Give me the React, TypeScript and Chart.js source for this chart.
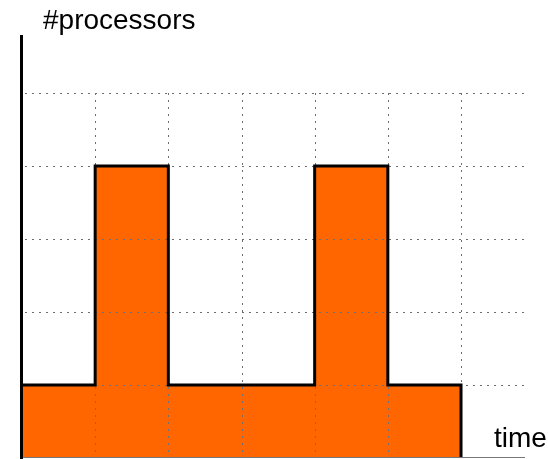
import React, { useEffect, useRef } from "react";
import { Chart, registerables } from "chart.js";

Chart.register(...registerables);

const times = [0, 1, 2, 3, 4, 5, 6];
const processors = [1, 4, 1, 1, 4, 1, 0];
const yGridValues = [1, 2, 3, 4, 5];
const xGridValues = [1, 2, 3, 4, 5, 6];
const yLabel = "#processors";
const xLabel = "time";

const W = 548;
const H = 459;

function drawGrid(chart: any) {
  const { ctx, scales } = chart;
  const xs = scales.x;
  const ys = scales.y;
  const x0 = xs.getPixelForValue(0);
  const xRight = xs.right;
  const y0 = ys.getPixelForValue(0);
  const yTop = ys.getPixelForValue(5);
  ctx.save();
  ctx.strokeStyle = "#6f6f6f";
  ctx.lineWidth = 1;
  ctx.setLineDash([2, 5]);
  for (const v of yGridValues) {
    const y = Math.round(ys.getPixelForValue(v)) + 0.5;
    ctx.beginPath();
    ctx.moveTo(x0 + 3, y);
    ctx.lineTo(xRight, y);
    ctx.stroke();
  }
  for (const v of xGridValues) {
    const x = Math.round(xs.getPixelForValue(v)) + 0.5;
    ctx.beginPath();
    ctx.moveTo(x, yTop);
    ctx.lineTo(x, y0);
    ctx.stroke();
  }
  ctx.restore();
}

const overlay = {
  id: "overlay",
  afterDatasetDraw(chart: any, args: any) {
    if (args.index === 0) drawGrid(chart);
  },
  afterDatasetsDraw(chart: any) {
    const { ctx, scales } = chart;
    const xs = scales.x;
    const ys = scales.y;
    const x0 = xs.getPixelForValue(0);
    const xRight = xs.right;
    const y0 = ys.getPixelForValue(0);
    ctx.save();
    ctx.strokeStyle = "#777";
    ctx.lineWidth = 1;
    ctx.beginPath();
    ctx.moveTo(x0, y0 - 0.5);
    ctx.lineTo(xRight - 2, y0 - 0.5);
    ctx.stroke();
    ctx.strokeStyle = "#000";
    ctx.lineWidth = 3;
    ctx.beginPath();
    ctx.moveTo(x0 - 0.5, 35);
    ctx.lineTo(x0 - 0.5, y0 + 1);
    ctx.stroke();
    ctx.fillStyle = "#000";
    ctx.font = "28px 'Liberation Sans', Arial, sans-serif";
    ctx.textBaseline = "alphabetic";
    ctx.textAlign = "left";
    ctx.fillText(yLabel, 43, 29);
    ctx.fillText(xLabel, 494, 447);
    ctx.restore();
  },
};

export default function App() {
  const ref = useRef<HTMLCanvasElement>(null);
  useEffect(() => {
    if (!ref.current) return;
    const unit = (461 - 22) / 6;
    const xMax = (527 - 22) / unit;
    const points = times.map((t, i) => ({ x: t, y: processors[i] }));
    const chart = new Chart(ref.current, {
      type: "line",
      data: {
        datasets: [
          {
            data: points,
            stepped: "before",
            borderWidth: 0,
            borderColor: "rgba(0,0,0,0)",
            backgroundColor: "#FF6600",
            fill: "origin",
            pointRadius: 0,
            order: 2,
          },
          {
            data: points,
            stepped: "before",
            borderColor: "#000",
            borderWidth: 3,
            fill: false,
            pointRadius: 0,
            borderJoinStyle: "miter",
            order: 1,
          },
        ],
      },
      options: {
        responsive: false,
        animation: false,
        events: [],
        layout: { padding: { left: 22, right: W - 527, top: 93, bottom: H - 458 } },
        plugins: { legend: { display: false }, tooltip: { enabled: false } },
        scales: {
          x: { type: "linear", min: 0, max: xMax, display: false },
          y: { type: "linear", min: 0, max: 5, display: false },
        },
      },
      plugins: [overlay],
    });
    return () => chart.destroy();
  }, []);
  return (
    <div style={{ position: "fixed", left: 0, top: 0, width: W, height: H, background: "#fff" }}>
      <canvas ref={ref} width={W} height={H} style={{ display: "block" }} />
    </div>
  );
}
